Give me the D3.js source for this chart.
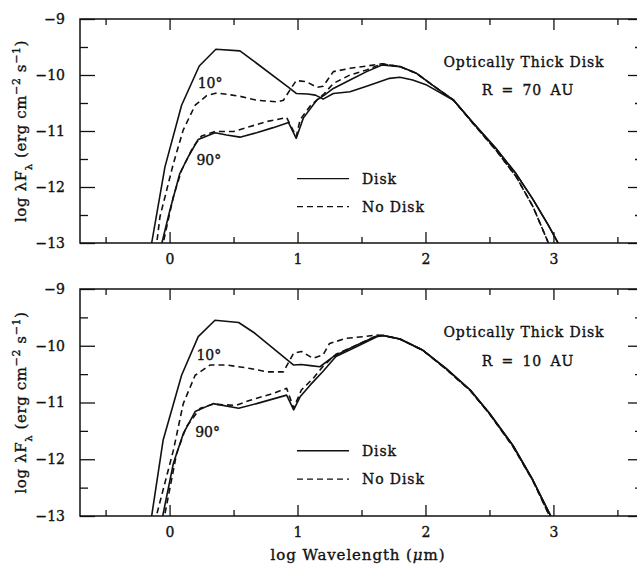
<!DOCTYPE html>
<html>
<head>
<meta charset="utf-8">
<script src="https://cdn.jsdelivr.net/npm/d3@7"></script>
<style>
  body { margin: 0; background: #fff; }
  svg text { font-family: "DejaVu Serif", serif; fill: #111; stroke: #111; stroke-width: 0.35px; }
</style>
</head>
<body>
<div id="chart"></div>
<script>
var svgWidth = 637;
var svgHeight = 568;

// data: [log wavelength (um), log lambda F_lambda]
var xMajor = [0, 1, 2, 3];
var xMinor = [-0.5, 0.5, 1.5, 2.5, 3.5];
var yMajor = [-13, -12, -11, -10, -9];
var yMinor = [-12.5, -11.5, -10.5, -9.5];

// R = 70 AU panel
var r70Disk10 = [[-0.16,-13.3],[-0.14,-13],[-0.036,-11.64],[0.094,-10.54],[0.232,-9.84],[0.362,-9.54],[0.55,-9.57],[0.68,-9.79],[0.93,-10.22],[0.99,-10.33],[1.08,-10.34],[1.14,-10.36],[1.2,-10.43],[1.28,-10.33],[1.41,-10.3],[1.54,-10.2],[1.72,-10.06],[1.8,-10.04],[1.9,-10.09],[2.01,-10.18],[2.22,-10.45],[2.37,-10.85],[2.55,-11.31],[2.71,-11.77],[2.84,-12.22],[2.96,-12.68],[3.06,-13.1]];
var r70NoDisk10 = [[-0.12,-13.3],[-0.1,-13],[-0.075,-12.53],[0.03,-11.58],[0.107,-10.98],[0.2,-10.54],[0.29,-10.37],[0.37,-10.32],[0.55,-10.38],[0.68,-10.45],[0.84,-10.48],[0.89,-10.45],[0.94,-10.27],[0.99,-10.1],[1.07,-10.12],[1.15,-10.22],[1.2,-10.2],[1.28,-9.94],[1.41,-9.88],[1.54,-9.84],[1.66,-9.8],[1.8,-9.85],[1.93,-9.97],[2.06,-10.19],[2.22,-10.45],[2.37,-10.86],[2.55,-11.34],[2.71,-11.82],[2.84,-12.35],[2.97,-13.05]];
var r70Disk90 = [[-0.08,-13.3],[-0.06,-13],[0.003,-12.41],[0.08,-11.76],[0.146,-11.46],[0.224,-11.15],[0.355,-11.03],[0.446,-11.07],[0.55,-11.11],[0.68,-11.03],[0.81,-10.94],[0.93,-10.85],[0.99,-11.13],[1.045,-10.77],[1.12,-10.54],[1.15,-10.45],[1.21,-10.36],[1.28,-10.24],[1.41,-10.09],[1.54,-9.94],[1.66,-9.82],[1.8,-9.85],[1.93,-9.97],[2.06,-10.19],[2.22,-10.45],[2.37,-10.85],[2.55,-11.31],[2.71,-11.77],[2.84,-12.22],[2.96,-12.68],[3.06,-13.1]];
var r70NoDisk90 = [[-0.07,-13.3],[-0.05,-13],[0.03,-12.17],[0.094,-11.7],[0.185,-11.28],[0.25,-11.09],[0.355,-11.01],[0.5,-11.01],[0.63,-10.92],[0.76,-10.83],[0.915,-10.76],[0.99,-11.1],[1.02,-10.8],[1.1,-10.55],[1.21,-10.33],[1.28,-10.15],[1.41,-10.0],[1.54,-9.91],[1.66,-9.8],[1.8,-9.85],[1.93,-9.97],[2.06,-10.19],[2.22,-10.45],[2.37,-10.86],[2.55,-11.34],[2.71,-11.82],[2.84,-12.35],[2.97,-13.05]];

// R = 10 AU panel
var r10Disk10 = [[-0.16,-13.3],[-0.14,-13],[-0.05,-11.66],[0.094,-10.52],[0.224,-9.84],[0.355,-9.55],[0.54,-9.59],[0.667,-9.78],[0.97,-10.34],[1.03,-10.33],[1.1,-10.35],[1.175,-10.37],[1.28,-10.19],[1.46,-9.99],[1.62,-9.83],[1.67,-9.82],[1.8,-9.88],[1.98,-10.08],[2.16,-10.4],[2.35,-10.78],[2.5,-11.19],[2.685,-11.76],[2.84,-12.37],[2.99,-13.05]];
var r10NoDisk10 = [[-0.12,-13.3],[-0.1,-12.97],[0.03,-11.84],[0.107,-11.02],[0.2,-10.52],[0.316,-10.34],[0.45,-10.34],[0.63,-10.4],[0.76,-10.46],[0.89,-10.46],[0.97,-10.13],[1.03,-10.1],[1.12,-10.22],[1.2,-10.16],[1.25,-9.96],[1.38,-9.87],[1.51,-9.84],[1.62,-9.81],[1.67,-9.82],[1.8,-9.88],[1.98,-10.08],[2.16,-10.41],[2.35,-10.79],[2.5,-11.2],[2.685,-11.78],[2.84,-12.38],[2.98,-13.05]];
var r10Disk90 = [[-0.07,-13.3],[-0.05,-12.96],[0.03,-12.07],[0.107,-11.55],[0.2,-11.16],[0.34,-11.02],[0.54,-11.1],[0.68,-11.02],[0.915,-10.87],[0.97,-11.13],[1.02,-10.9],[1.1,-10.69],[1.2,-10.45],[1.3,-10.19],[1.46,-10.02],[1.62,-9.84],[1.67,-9.82],[1.8,-9.88],[1.98,-10.08],[2.16,-10.4],[2.35,-10.78],[2.5,-11.19],[2.685,-11.76],[2.84,-12.37],[2.99,-13.05]];
var r10NoDisk90 = [[-0.06,-13.3],[-0.036,-12.96],[0.055,-11.9],[0.13,-11.43],[0.24,-11.1],[0.34,-11.03],[0.52,-11.05],[0.63,-10.96],[0.81,-10.84],[0.915,-10.75],[0.97,-11.1],[1.03,-10.78],[1.12,-10.58],[1.2,-10.36],[1.3,-10.15],[1.46,-9.99],[1.62,-9.82],[1.67,-9.82],[1.8,-9.88],[1.98,-10.08],[2.16,-10.41],[2.35,-10.79],[2.5,-11.2],[2.685,-11.78],[2.84,-12.38],[2.98,-13.05]];

var panels = [
  { top: 19, bottom: 243, label: "R = 70 AU",
    series: [r70Disk10, r70NoDisk10, r70Disk90, r70NoDisk90],
    deg10: [0.22, -10.23], deg90: [0.21, -11.6] },
  { top: 289, bottom: 516, label: "R = 10 AU",
    series: [r10Disk10, r10NoDisk10, r10Disk90, r10NoDisk90],
    deg10: [0.21, -10.25], deg90: [0.2, -11.61] }
];

var svg = d3.select("#chart")
  .append("svg")
  .attr("width", svgWidth)
  .attr("height", svgHeight);

var x = d3.scaleLinear()
  .domain([-0.7, 3.7])
  .range([80, 643]);

panels.forEach(function(p, i) {
  var y = d3.scaleLinear()
    .domain([-13, -9])
    .range([p.bottom, p.top]);

  var g = svg.append("g");

  g.append("clipPath")
    .attr("id", "clip" + i)
    .append("rect")
    .attr("x", x.range()[0])
    .attr("y", p.top)
    .attr("width", x.range()[1] - x.range()[0])
    .attr("height", p.bottom - p.top);

  // major + minor ticks on all four sides, pointing inward
  function addAxis(axis, tx, ty, showLabels) {
    var a = g.append("g")
      .attr("transform", "translate(" + tx + "," + ty + ")")
      .call(axis);
    a.select(".domain").remove();
    a.selectAll("line").attr("stroke", "#111").attr("stroke-width", 1.3);
    if (!showLabels) a.selectAll("text").remove();
    else a.selectAll("text").style("font-size", "14px").attr("fill", "#111");
  }

  addAxis(d3.axisBottom(x).tickValues(xMajor).tickSizeInner(-11).tickSizeOuter(0).tickPadding(11).tickFormat(d3.format("d")), 0, p.bottom, true);
  addAxis(d3.axisBottom(x).tickValues(xMinor).tickSizeInner(-6).tickSizeOuter(0), 0, p.bottom, false);
  addAxis(d3.axisTop(x).tickValues(xMajor).tickSizeInner(-11).tickSizeOuter(0), 0, p.top, false);
  addAxis(d3.axisTop(x).tickValues(xMinor).tickSizeInner(-6).tickSizeOuter(0), 0, p.top, false);
  addAxis(d3.axisLeft(y).tickValues(yMajor).tickSizeInner(-15).tickSizeOuter(0).tickPadding(15).tickFormat(d3.format("d")), x.range()[0], 0, true);
  addAxis(d3.axisLeft(y).tickValues(yMinor).tickSizeInner(-8).tickSizeOuter(0), x.range()[0], 0, false);
  addAxis(d3.axisRight(y).tickValues(yMajor).tickSizeInner(-15).tickSizeOuter(0), x.range()[1], 0, false);
  addAxis(d3.axisRight(y).tickValues(yMinor).tickSizeInner(-8).tickSizeOuter(0), x.range()[1], 0, false);

  // frame
  g.append("rect")
    .attr("x", x.range()[0])
    .attr("y", p.top)
    .attr("width", x.range()[1] - x.range()[0])
    .attr("height", p.bottom - p.top)
    .attr("fill", "none")
    .attr("stroke", "#111")
    .attr("stroke-width", 1.5);

  var line = d3.line()
    .x(d => x(d[0]))
    .y(d => y(d[1]));

  g.append("g")
    .attr("clip-path", "url(#clip" + i + ")")
    .selectAll("path")
    .data(p.series)
    .enter()
    .append("path")
    .attr("d", line)
    .attr("fill", "none")
    .attr("stroke", "#111")
    .attr("stroke-width", 1.6)
    .attr("stroke-linejoin", "round")
    .attr("stroke-dasharray", (d, k) => k % 2 === 1 ? "6,4" : null);

  // curve labels
  g.append("text")
    .attr("x", x(p.deg10[0]))
    .attr("y", y(p.deg10[1]))
    .style("font-size", "14px")
    .text("10°");
  g.append("text")
    .attr("x", x(p.deg90[0]))
    .attr("y", y(p.deg90[1]))
    .style("font-size", "14px")
    .text("90°");

  // panel titles
  g.append("text")
    .attr("x", 524)
    .attr("y", y(-9.85))
    .attr("text-anchor", "middle")
    .style("font-size", "14px")
    .style("letter-spacing", "0.9px")
    .text("Optically Thick Disk");
  g.append("text")
    .attr("x", 528)
    .attr("y", y(-10.35))
    .attr("text-anchor", "middle")
    .style("font-size", "14px")
    .style("letter-spacing", "0.9px")
    .style("word-spacing", "3px")
    .text(p.label);

  // legend
  var legend = [["Disk", null, -11.85], ["No Disk", "6,4", -12.35]];
  legend.forEach(function(l) {
    g.append("line")
      .attr("x1", 297).attr("x2", 349)
      .attr("y1", y(l[2])).attr("y2", y(l[2]))
      .attr("stroke", "#111")
      .attr("stroke-width", 1.4)
      .attr("stroke-dasharray", l[1]);
    g.append("text")
      .attr("x", 362)
      .attr("y", y(l[2]))
      .attr("dy", "0.35em")
      .style("font-size", "14px")
      .style("letter-spacing", "0.9px")
      .text(l[0]);
  });

  // y axis title
  var yt = g.append("text")
    .attr("transform", "translate(26," + ((p.top + p.bottom) / 2) + ") rotate(-90)")
    .attr("text-anchor", "middle")
    .style("font-size", "15px")
    .style("letter-spacing", "0.6px");
  yt.append("tspan").text("log λF");
  yt.append("tspan").attr("baseline-shift", "sub").style("font-size", "10px").text("λ");
  yt.append("tspan").text(" (erg cm");
  yt.append("tspan").attr("baseline-shift", "super").style("font-size", "11px").text("−2");
  yt.append("tspan").text(" s");
  yt.append("tspan").attr("baseline-shift", "super").style("font-size", "11px").text("−1");
  yt.append("tspan").text(")");
});

// x axis title
var xt = svg.append("text")
  .attr("x", 358)
  .attr("y", 560)
  .attr("text-anchor", "middle")
  .style("font-size", "15px")
  .style("letter-spacing", "0.9px");
xt.append("tspan").text("log Wavelength (");
xt.append("tspan").style("font-style", "italic").text("μ");
xt.append("tspan").text("m)");
</script>
</body>
</html>
